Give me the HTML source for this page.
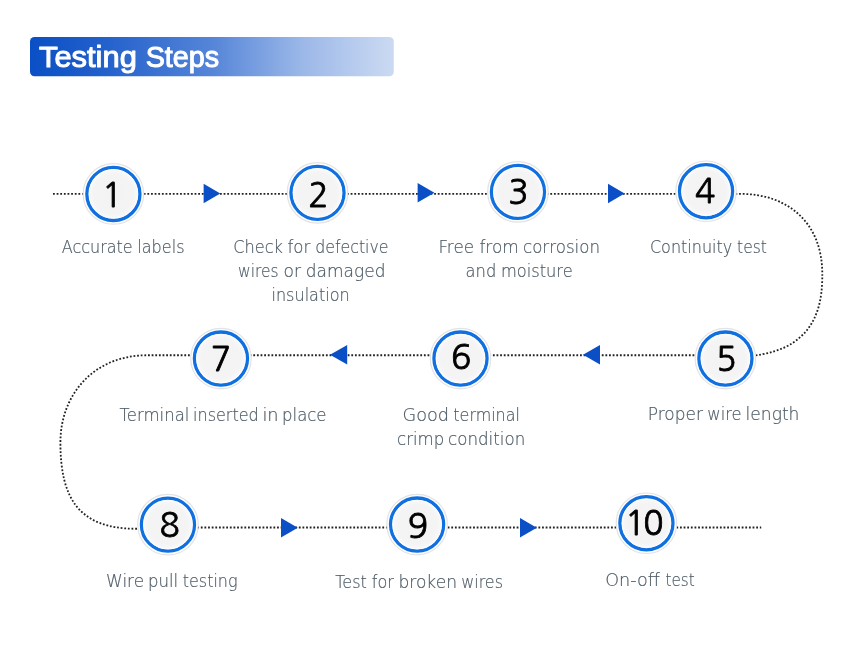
<!DOCTYPE html>
<html lang="en">
<head>
<meta charset="utf-8">
<title>Testing Steps</title>
<style>
html,body{margin:0;padding:0;background:#fff;}
body{width:859px;height:667px;overflow:hidden;position:relative;font-family:"Liberation Sans",sans-serif;}
svg{position:absolute;left:0;top:0;display:block;will-change:transform;}
.lbl{font-family:"DejaVu Sans","Liberation Sans",sans-serif;font-weight:200;font-size:18.4px;fill:#4d5b66;stroke:#4d5b66;stroke-width:0.2px;}
.num{font-family:"NanumGothic","Liberation Sans",sans-serif;font-size:33.6px;fill:#000;stroke:#000;stroke-width:0.8px;text-anchor:middle;}
.ttl{font-family:"Liberation Sans",sans-serif;font-weight:normal;font-size:29.2px;fill:#fff;stroke:#fff;stroke-width:1.0px;stroke-linejoin:round;}
</style>
</head>
<body>
<svg width="859" height="667" viewBox="0 0 859 667">
<defs>
<linearGradient id="hg" x1="0" y1="0" x2="1" y2="0">
<stop offset="0" stop-color="#0a4fc5"/>
<stop offset="0.2" stop-color="#2260cb"/>
<stop offset="0.5" stop-color="#5585d8"/>
<stop offset="0.75" stop-color="#9cb8e8"/>
<stop offset="1" stop-color="#cbdaf2"/>
</linearGradient>
<radialGradient id="cg" cx="0.5" cy="0.5" r="0.5">
<stop offset="0" stop-color="#f3f3f4"/>
<stop offset="0.8" stop-color="#f4f4f5"/>
<stop offset="0.93" stop-color="#f7f7f8"/>
<stop offset="1" stop-color="#fdfdfe"/>
</radialGradient>
</defs>
<rect x="30" y="37" width="363.8" height="39.2" rx="4.5" ry="4.5" fill="url(#hg)"/>
<text class="ttl" y="67"><tspan x="39.0" textLength="97.8" lengthAdjust="spacingAndGlyphs">Testing</tspan> <tspan x="145.7" textLength="73.5" lengthAdjust="spacingAndGlyphs">Steps</tspan></text>
<g stroke="#222" stroke-width="1.8" stroke-dasharray="1.8 1.83" fill="none">
<path d="M53,193.9 H740.9 C786.4,193.9 822.3,221.4 822.3,274 C822.3,302.4 818.7,356.6 734.7,356.6"/>
<path d="M727,355.25 H147.56 C92.26,355.25 60.4,396.12 60.4,442.43 C60.4,497.63 78.28,528.76 136.11,528.76 H150"/>
<path d="M150,527.5 H761.2"/>
</g>
<g fill="#0b4fc6">
<polygon points="203.60,183.75 220.30,193.45 203.60,203.15"/>
<polygon points="417.60,183.10 434.40,192.80 417.60,202.50"/>
<polygon points="608.00,183.80 624.60,193.50 608.00,203.20"/>
<polygon points="600.00,345.10 583.00,354.80 600.00,364.50"/>
<polygon points="347.20,345.00 330.00,354.70 347.20,364.40"/>
<polygon points="281.00,518.10 297.80,527.80 281.00,537.50"/>
<polygon points="520.00,518.10 536.80,527.80 520.00,537.50"/>
</g>
<g><circle cx="113.4" cy="193.95" r="30.25" fill="#fff" stroke="#e3e3e3" stroke-width="1.2"/><circle cx="113.4" cy="193.95" r="26.55" fill="#fdfdfe" stroke="#1170e0" stroke-width="3.3"/><circle cx="113.4" cy="193.95" r="24.6" fill="url(#cg)"/><text class="num" x="112.3" y="207">1</text></g>
<g><circle cx="317.5" cy="192.85" r="30.25" fill="#fff" stroke="#e3e3e3" stroke-width="1.2"/><circle cx="317.5" cy="192.85" r="26.55" fill="#fdfdfe" stroke="#1170e0" stroke-width="3.3"/><circle cx="317.5" cy="192.85" r="24.6" fill="url(#cg)"/><text class="num" x="318.5" y="207">2</text></g>
<g><circle cx="517.95" cy="191.9" r="30.25" fill="#fff" stroke="#e3e3e3" stroke-width="1.2"/><circle cx="517.95" cy="191.9" r="26.55" fill="#fdfdfe" stroke="#1170e0" stroke-width="3.3"/><circle cx="517.95" cy="191.9" r="24.6" fill="url(#cg)"/><text class="num" x="518.4" y="204.4">3</text></g>
<g><circle cx="706.05" cy="191.25" r="30.25" fill="#fff" stroke="#e3e3e3" stroke-width="1.2"/><circle cx="706.05" cy="191.25" r="26.55" fill="#fdfdfe" stroke="#1170e0" stroke-width="3.3"/><circle cx="706.05" cy="191.25" r="24.6" fill="url(#cg)"/><text class="num" x="705.3" y="203">4</text></g>
<g><circle cx="725.42" cy="358.53" r="30.25" fill="#fff" stroke="#e3e3e3" stroke-width="1.2"/><circle cx="725.42" cy="358.53" r="26.55" fill="#fdfdfe" stroke="#1170e0" stroke-width="3.3"/><circle cx="725.42" cy="358.53" r="24.6" fill="url(#cg)"/><text class="num" x="726.4" y="371">5</text></g>
<g><circle cx="460.5" cy="358.53" r="30.25" fill="#fff" stroke="#e3e3e3" stroke-width="1.2"/><circle cx="460.5" cy="358.53" r="26.55" fill="#fdfdfe" stroke="#1170e0" stroke-width="3.3"/><circle cx="460.5" cy="358.53" r="24.6" fill="url(#cg)"/><text class="num" x="461.3" y="369">6</text></g>
<g><circle cx="220.95" cy="358.53" r="30.25" fill="#fff" stroke="#e3e3e3" stroke-width="1.2"/><circle cx="220.95" cy="358.53" r="26.55" fill="#fdfdfe" stroke="#1170e0" stroke-width="3.3"/><circle cx="220.95" cy="358.53" r="24.6" fill="url(#cg)"/><text class="num" x="220.95" y="371">7</text></g>
<g><circle cx="167.95" cy="524.66" r="30.25" fill="#fff" stroke="#e3e3e3" stroke-width="1.2"/><circle cx="167.95" cy="524.66" r="26.55" fill="#fdfdfe" stroke="#1170e0" stroke-width="3.3"/><circle cx="167.95" cy="524.66" r="24.6" fill="url(#cg)"/><text class="num" x="169.8" y="537">8</text></g>
<g><circle cx="417.09" cy="524.53" r="30.25" fill="#fff" stroke="#e3e3e3" stroke-width="1.2"/><circle cx="417.09" cy="524.53" r="26.55" fill="#fdfdfe" stroke="#1170e0" stroke-width="3.3"/><circle cx="417.09" cy="524.53" r="24.6" fill="url(#cg)"/><text class="num" x="417.9" y="538">9</text></g>
<g><circle cx="646.42" cy="523.25" r="30.25" fill="#fff" stroke="#e3e3e3" stroke-width="1.2"/><circle cx="646.42" cy="523.25" r="26.55" fill="#fdfdfe" stroke="#1170e0" stroke-width="3.3"/><circle cx="646.42" cy="523.25" r="24.6" fill="url(#cg)"/><text class="num" transform="translate(645.8,535)"><tspan x="-10.6">1</tspan><tspan x="7.5">0</tspan></text></g>
<text class="lbl" y="253"><tspan x="61.71" textLength="71.03" lengthAdjust="spacingAndGlyphs">Accurate</tspan> <tspan x="137.32" textLength="47.21" lengthAdjust="spacingAndGlyphs">labels</tspan></text>
<text class="lbl" y="253"><tspan x="233.22" textLength="49.76" lengthAdjust="spacingAndGlyphs">Check</tspan> <tspan x="287.44" textLength="22.92" lengthAdjust="spacingAndGlyphs">for</tspan> <tspan x="315.19" textLength="73.42" lengthAdjust="spacingAndGlyphs">defective</tspan></text>
<text class="lbl" y="277"><tspan x="238.06" textLength="40.46" lengthAdjust="spacingAndGlyphs">wires</tspan> <tspan x="283.47" textLength="17.52" lengthAdjust="spacingAndGlyphs">or</tspan> <tspan x="305.77" textLength="79.70" lengthAdjust="spacingAndGlyphs">damaged</tspan></text>
<text class="lbl" y="301"><tspan x="271.49" textLength="78.23" lengthAdjust="spacingAndGlyphs">insulation</tspan></text>
<text class="lbl" y="253"><tspan x="438.43" textLength="35.62" lengthAdjust="spacingAndGlyphs">Free</tspan> <tspan x="479.38" textLength="39.40" lengthAdjust="spacingAndGlyphs">from</tspan> <tspan x="522.99" textLength="77.04" lengthAdjust="spacingAndGlyphs">corrosion</tspan></text>
<text class="lbl" y="277"><tspan x="465.61" textLength="30.72" lengthAdjust="spacingAndGlyphs">and</tspan> <tspan x="500.95" textLength="71.75" lengthAdjust="spacingAndGlyphs">moisture</tspan></text>
<text class="lbl" y="253"><tspan x="649.93" textLength="82.29" lengthAdjust="spacingAndGlyphs">Continuity</tspan> <tspan x="737.11" textLength="29.75" lengthAdjust="spacingAndGlyphs">test</tspan></text>
<text class="lbl" y="420"><tspan x="647.75" textLength="55.20" lengthAdjust="spacingAndGlyphs">Proper</tspan> <tspan x="707.36" textLength="34.31" lengthAdjust="spacingAndGlyphs">wire</tspan> <tspan x="745.56" textLength="53.91" lengthAdjust="spacingAndGlyphs">length</tspan></text>
<text class="lbl" y="421"><tspan x="402.44" textLength="46.56" lengthAdjust="spacingAndGlyphs">Good</tspan> <tspan x="453.34" textLength="66.59" lengthAdjust="spacingAndGlyphs">terminal</tspan></text>
<text class="lbl" y="445"><tspan x="397.10" textLength="47.13" lengthAdjust="spacingAndGlyphs">crimp</tspan> <tspan x="448.09" textLength="77.12" lengthAdjust="spacingAndGlyphs">condition</tspan></text>
<text class="lbl" y="421"><tspan x="119.60" textLength="69.74" lengthAdjust="spacingAndGlyphs">Terminal</tspan> <tspan x="193.04" textLength="65.67" lengthAdjust="spacingAndGlyphs">inserted</tspan> <tspan x="262.40" textLength="16.21" lengthAdjust="spacingAndGlyphs">in</tspan> <tspan x="282.05" textLength="44.51" lengthAdjust="spacingAndGlyphs">place</tspan></text>
<text class="lbl" y="587"><tspan x="106.08" textLength="37.97" lengthAdjust="spacingAndGlyphs">Wire</tspan> <tspan x="148.00" textLength="30.20" lengthAdjust="spacingAndGlyphs">pull</tspan> <tspan x="182.79" textLength="54.73" lengthAdjust="spacingAndGlyphs">testing</tspan></text>
<text class="lbl" y="588"><tspan x="335.30" textLength="31.49" lengthAdjust="spacingAndGlyphs">Test</tspan> <tspan x="371.76" textLength="22.11" lengthAdjust="spacingAndGlyphs">for</tspan> <tspan x="398.45" textLength="58.53" lengthAdjust="spacingAndGlyphs">broken</tspan> <tspan x="461.23" textLength="41.72" lengthAdjust="spacingAndGlyphs">wires</tspan></text>
<text class="lbl" y="586"><tspan x="605.24" textLength="54.59" lengthAdjust="spacingAndGlyphs">On-off</tspan> <tspan x="665.53" textLength="29.23" lengthAdjust="spacingAndGlyphs">test</tspan></text>
</svg>
</body>
</html>
